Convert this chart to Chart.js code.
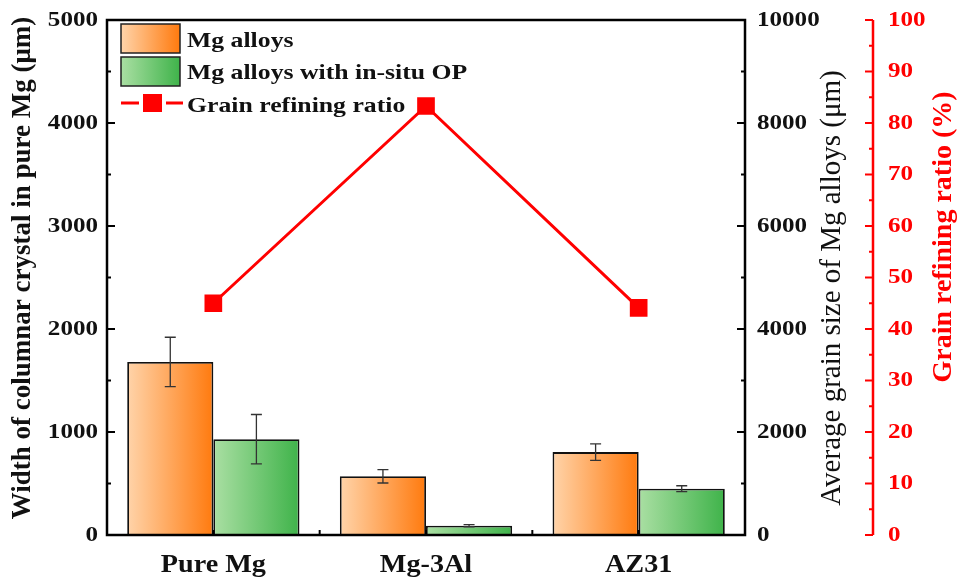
<!DOCTYPE html>
<html>
<head>
<meta charset="utf-8">
<script src="https://cdn.jsdelivr.net/npm/chart.js@4/dist/chart.umd.min.js"></script>
<style>
  html, body { margin: 0; padding: 0; background: #fff; }
  #grafico { display: block; }
</style>
</head>
<body>
<canvas id="grafico" width="959" height="585"></canvas>
<script>
const categories = ["Pure Mg", "Mg-3Al", "AZ31"]

// bar values in μm, read on the left axis (the black right axis is the same scale x2)
const mgAlloys = [1680, 570, 805]
const mgAlloysErr = [240, 65, 80]
const mgAlloysOP = [930, 90, 450]
const mgAlloysOPErr = [240, 10, 28]

// grain refining ratio, %
const refiningRatio = [45.0, 83.3, 44.1]

// axis ranges: [min, max, step]
const leftTicks = [0, 5000, 1000]
const rightTicks = [0, 10000, 2000]
const ratioTicks = [0, 100, 10]

const labelsLegend = ["Mg alloys", "Mg alloys with in-situ OP", "Grain refining ratio"]
const titleLeft = "Width of columnar crystal in pure Mg (μm)"
const titleRight = "Average grain size of Mg alloys (μm)"
const titleRatio = "Grain refining ratio (%)"

const SERIF = '"Liberation Serif", "Times New Roman", serif'
const RED = '#ff0000'
const orange = ['#ffd4aa', '#ff7a0e']
const green = ['#aadfa3', '#3fb34a']

const drawText = (ctx, str, x, y, o) => {
    ctx.save()
    ctx.translate(x, y)
    if (o.rot) ctx.rotate(o.rot)
    ctx.scale(o.sx || 1, o.sy || 1)
    ctx.font = o.font
    ctx.fillStyle = o.color || '#111'
    ctx.textAlign = o.align || 'left'
    ctx.textBaseline = o.base || 'alphabetic'
    ctx.fillText(str, 0, 0)
    ctx.restore()
}

const hGradient = (ctx, x0, x1, cols) => {
    const g = ctx.createLinearGradient(x0, 0, x1, 0)
    g.addColorStop(0, cols[0])
    g.addColorStop(1, cols[1])
    return g
}

// horizontal gradient spanning each bar, computed from the category scale
const barFill = (cols) => (context) => {
    const chart = context.chart
    const xs = chart.scales.x
    if (context.dataIndex === undefined || !xs || !chart.chartArea) return cols[1]
    const w = (xs.width / categories.length) * 0.81 / 2
    const cx = xs.getPixelForValue(context.dataIndex)
    const x0 = context.datasetIndex === 0 ? cx - w : cx
    return hGradient(chart.ctx, x0, x0 + w, cols)
}

const errorBars = {
    id: 'errorBars',
    afterDatasetsDraw(chart) {
        const ctx = chart.ctx
        const ys = chart.scales.y
        const errs = [mgAlloysErr, mgAlloysOPErr]
        const vals = [mgAlloys, mgAlloysOP]
        ctx.save()
        ctx.strokeStyle = '#333'
        ctx.lineWidth = 1.3
        for (let d = 0; d < 2; d++) {
            chart.getDatasetMeta(d).data.forEach((bar, i) => {
                const top = ys.getPixelForValue(vals[d][i] + errs[d][i])
                const bot = ys.getPixelForValue(vals[d][i] - errs[d][i])
                ctx.beginPath()
                ctx.moveTo(bar.x, top); ctx.lineTo(bar.x, bot)
                ctx.moveTo(bar.x - 5.5, top); ctx.lineTo(bar.x + 5.5, top)
                ctx.moveTo(bar.x - 5.5, bot); ctx.lineTo(bar.x + 5.5, bot)
                ctx.stroke()
            })
        }
        ctx.restore()
    }
}

const frameAndText = {
    id: 'frameAndText',
    afterDraw(chart) {
        const ctx = chart.ctx
        const ca = chart.chartArea
        const { x, y, y1, y2 } = chart.scales
        ctx.save()

        // box
        ctx.strokeStyle = '#000'
        ctx.lineWidth = 2.5
        ctx.strokeRect(ca.left, ca.top, ca.right - ca.left, ca.bottom - ca.top)

        const tick = (px, py, len) => {
            ctx.beginPath(); ctx.moveTo(px, py); ctx.lineTo(px + len, py); ctx.stroke()
        }
        ctx.lineWidth = 2
        for (let v = leftTicks[0]; v <= leftTicks[1]; v += leftTicks[2] / 2) {
            tick(ca.left, y.getPixelForValue(v), v % leftTicks[2] === 0 ? 8 : 4)
        }
        for (let v = rightTicks[0]; v <= rightTicks[1]; v += rightTicks[2] / 2) {
            tick(ca.right, y1.getPixelForValue(v), v % rightTicks[2] === 0 ? -8 : -4)
        }
        // small inward ticks on the category axis
        for (let i = 0; i < categories.length; i++) {
            const cx = x.getPixelForValue(i)
            const half = x.width / categories.length / 2
            ;[cx, cx + half].forEach(px => {
                ctx.beginPath(); ctx.moveTo(px, ca.bottom); ctx.lineTo(px, ca.bottom - 5); ctx.stroke()
            })
        }

        // red ratio axis
        const rx = y2.left
        ctx.strokeStyle = RED
        ctx.lineWidth = 2.5
        ctx.beginPath(); ctx.moveTo(rx, ca.top); ctx.lineTo(rx, ca.bottom); ctx.stroke()
        ctx.lineWidth = 2
        for (let v = ratioTicks[0]; v <= ratioTicks[1]; v += ratioTicks[2] / 2) {
            tick(rx, y2.getPixelForValue(v), v % ratioTicks[2] === 0 ? -8 : -4)
        }

        // tick labels
        const fTick = 'bold 22px ' + SERIF
        y.ticks.forEach((t, i) => drawText(ctx, String(t.value), ca.left - 9, y.getPixelForTick(i),
            { font: fTick, sx: 1.14, align: 'right', base: 'middle' }))
        y1.ticks.forEach((t, i) => drawText(ctx, String(t.value), ca.right + 12, y1.getPixelForTick(i),
            { font: fTick, sx: 1.14, base: 'middle' }))
        y2.ticks.forEach((t, i) => drawText(ctx, String(t.value), rx + 15, y2.getPixelForTick(i),
            { font: fTick, sx: 1.14, base: 'middle', color: RED }))
        categories.forEach((c, i) => drawText(ctx, c, x.getPixelForValue(i), ca.bottom + 37,
            { font: 'bold 24.5px ' + SERIF, sx: 1.15, align: 'center' }))

        // axis titles
        const up = -Math.PI / 2
        drawText(ctx, titleLeft, 23, 268, { font: 'bold 27px ' + SERIF, rot: up, align: 'center', base: 'middle' })
        drawText(ctx, titleRight, 832, 288, { font: '29px ' + SERIF, rot: up, align: 'center', base: 'middle' })
        drawText(ctx, titleRatio, 944, 237, { font: 'bold 28px ' + SERIF, rot: up, align: 'center', base: 'middle', color: RED })

        // legend
        const lx = 121, lw = 59
        ctx.lineWidth = 1.5
        ctx.strokeStyle = '#222'
        ;[[orange, 24], [green, 57]].forEach(([cols, top]) => {
            ctx.fillStyle = hGradient(ctx, lx, lx + lw, cols)
            ctx.fillRect(lx, top, lw, 29)
            ctx.strokeRect(lx, top, lw, 29)
        })
        ctx.strokeStyle = RED
        ctx.lineWidth = 3
        ctx.beginPath()
        ctx.moveTo(lx, 103); ctx.lineTo(lx + 18, 103)
        ctx.moveTo(lx + 45, 103); ctx.lineTo(lx + 62, 103)
        ctx.stroke()
        ctx.fillStyle = RED
        ctx.fillRect(lx + 22, 94, 19, 18)
        const fLeg = 'bold 22px ' + SERIF
        drawText(ctx, labelsLegend[0], 187, 47, { font: fLeg, sx: 1.17 })
        drawText(ctx, labelsLegend[1], 187, 79, { font: fLeg, sx: 1.17 })
        drawText(ctx, labelsLegend[2], 187, 112, { font: fLeg, sx: 1.17 })

        ctx.restore()
    }
}

const grafico = new Chart(document.getElementById("grafico"), {
    data: {
        labels: categories,
        datasets: [
            {
                type: 'bar',
                label: labelsLegend[0],
                data: mgAlloys,
                yAxisID: 'y',
                backgroundColor: barFill(orange),
                borderColor: '#111',
                borderWidth: 1.8,
                barPercentage: 1,
                categoryPercentage: 0.81,
                order: 2
            },
            {
                type: 'bar',
                label: labelsLegend[1],
                data: mgAlloysOP,
                yAxisID: 'y',
                backgroundColor: barFill(green),
                borderColor: '#111',
                borderWidth: 1.8,
                barPercentage: 1,
                categoryPercentage: 0.81,
                order: 2
            },
            {
                type: 'line',
                label: labelsLegend[2],
                data: refiningRatio,
                yAxisID: 'y2',
                borderColor: RED,
                borderWidth: 3,
                pointStyle: 'rect',
                pointRadius: 12.5,
                pointBackgroundColor: RED,
                pointBorderWidth: 0,
                tension: 0,
                order: 1
            }
        ]
    },
    options: {
        responsive: false,
        animation: false,
        layout: { padding: { top: 20, left: 0, right: 0, bottom: 0 } },
        plugins: {
            legend: { display: false },
            tooltip: { enabled: false }
        },
        scales: {
            x: {
                type: 'category',
                offset: true,
                grid: { display: false },
                border: { display: false },
                ticks: { display: false },
                afterFit: s => { s.height = 50 }
            },
            y: {
                position: 'left',
                min: leftTicks[0], max: leftTicks[1],
                ticks: { stepSize: leftTicks[2], display: false },
                grid: { display: false },
                border: { display: false },
                afterFit: s => { s.width = 107 }
            },
            y1: {
                position: 'right',
                weight: 0,
                min: rightTicks[0], max: rightTicks[1],
                ticks: { stepSize: rightTicks[2], display: false },
                grid: { display: false },
                border: { display: false },
                afterFit: s => { s.width = 128 }
            },
            y2: {
                position: 'right',
                weight: 1,
                min: ratioTicks[0], max: ratioTicks[1],
                ticks: { stepSize: ratioTicks[2], display: false },
                grid: { display: false },
                border: { display: false },
                afterFit: s => { s.width = 86 }
            }
        }
    },
    plugins: [errorBars, frameAndText]
})
</script>
</body>
</html>
